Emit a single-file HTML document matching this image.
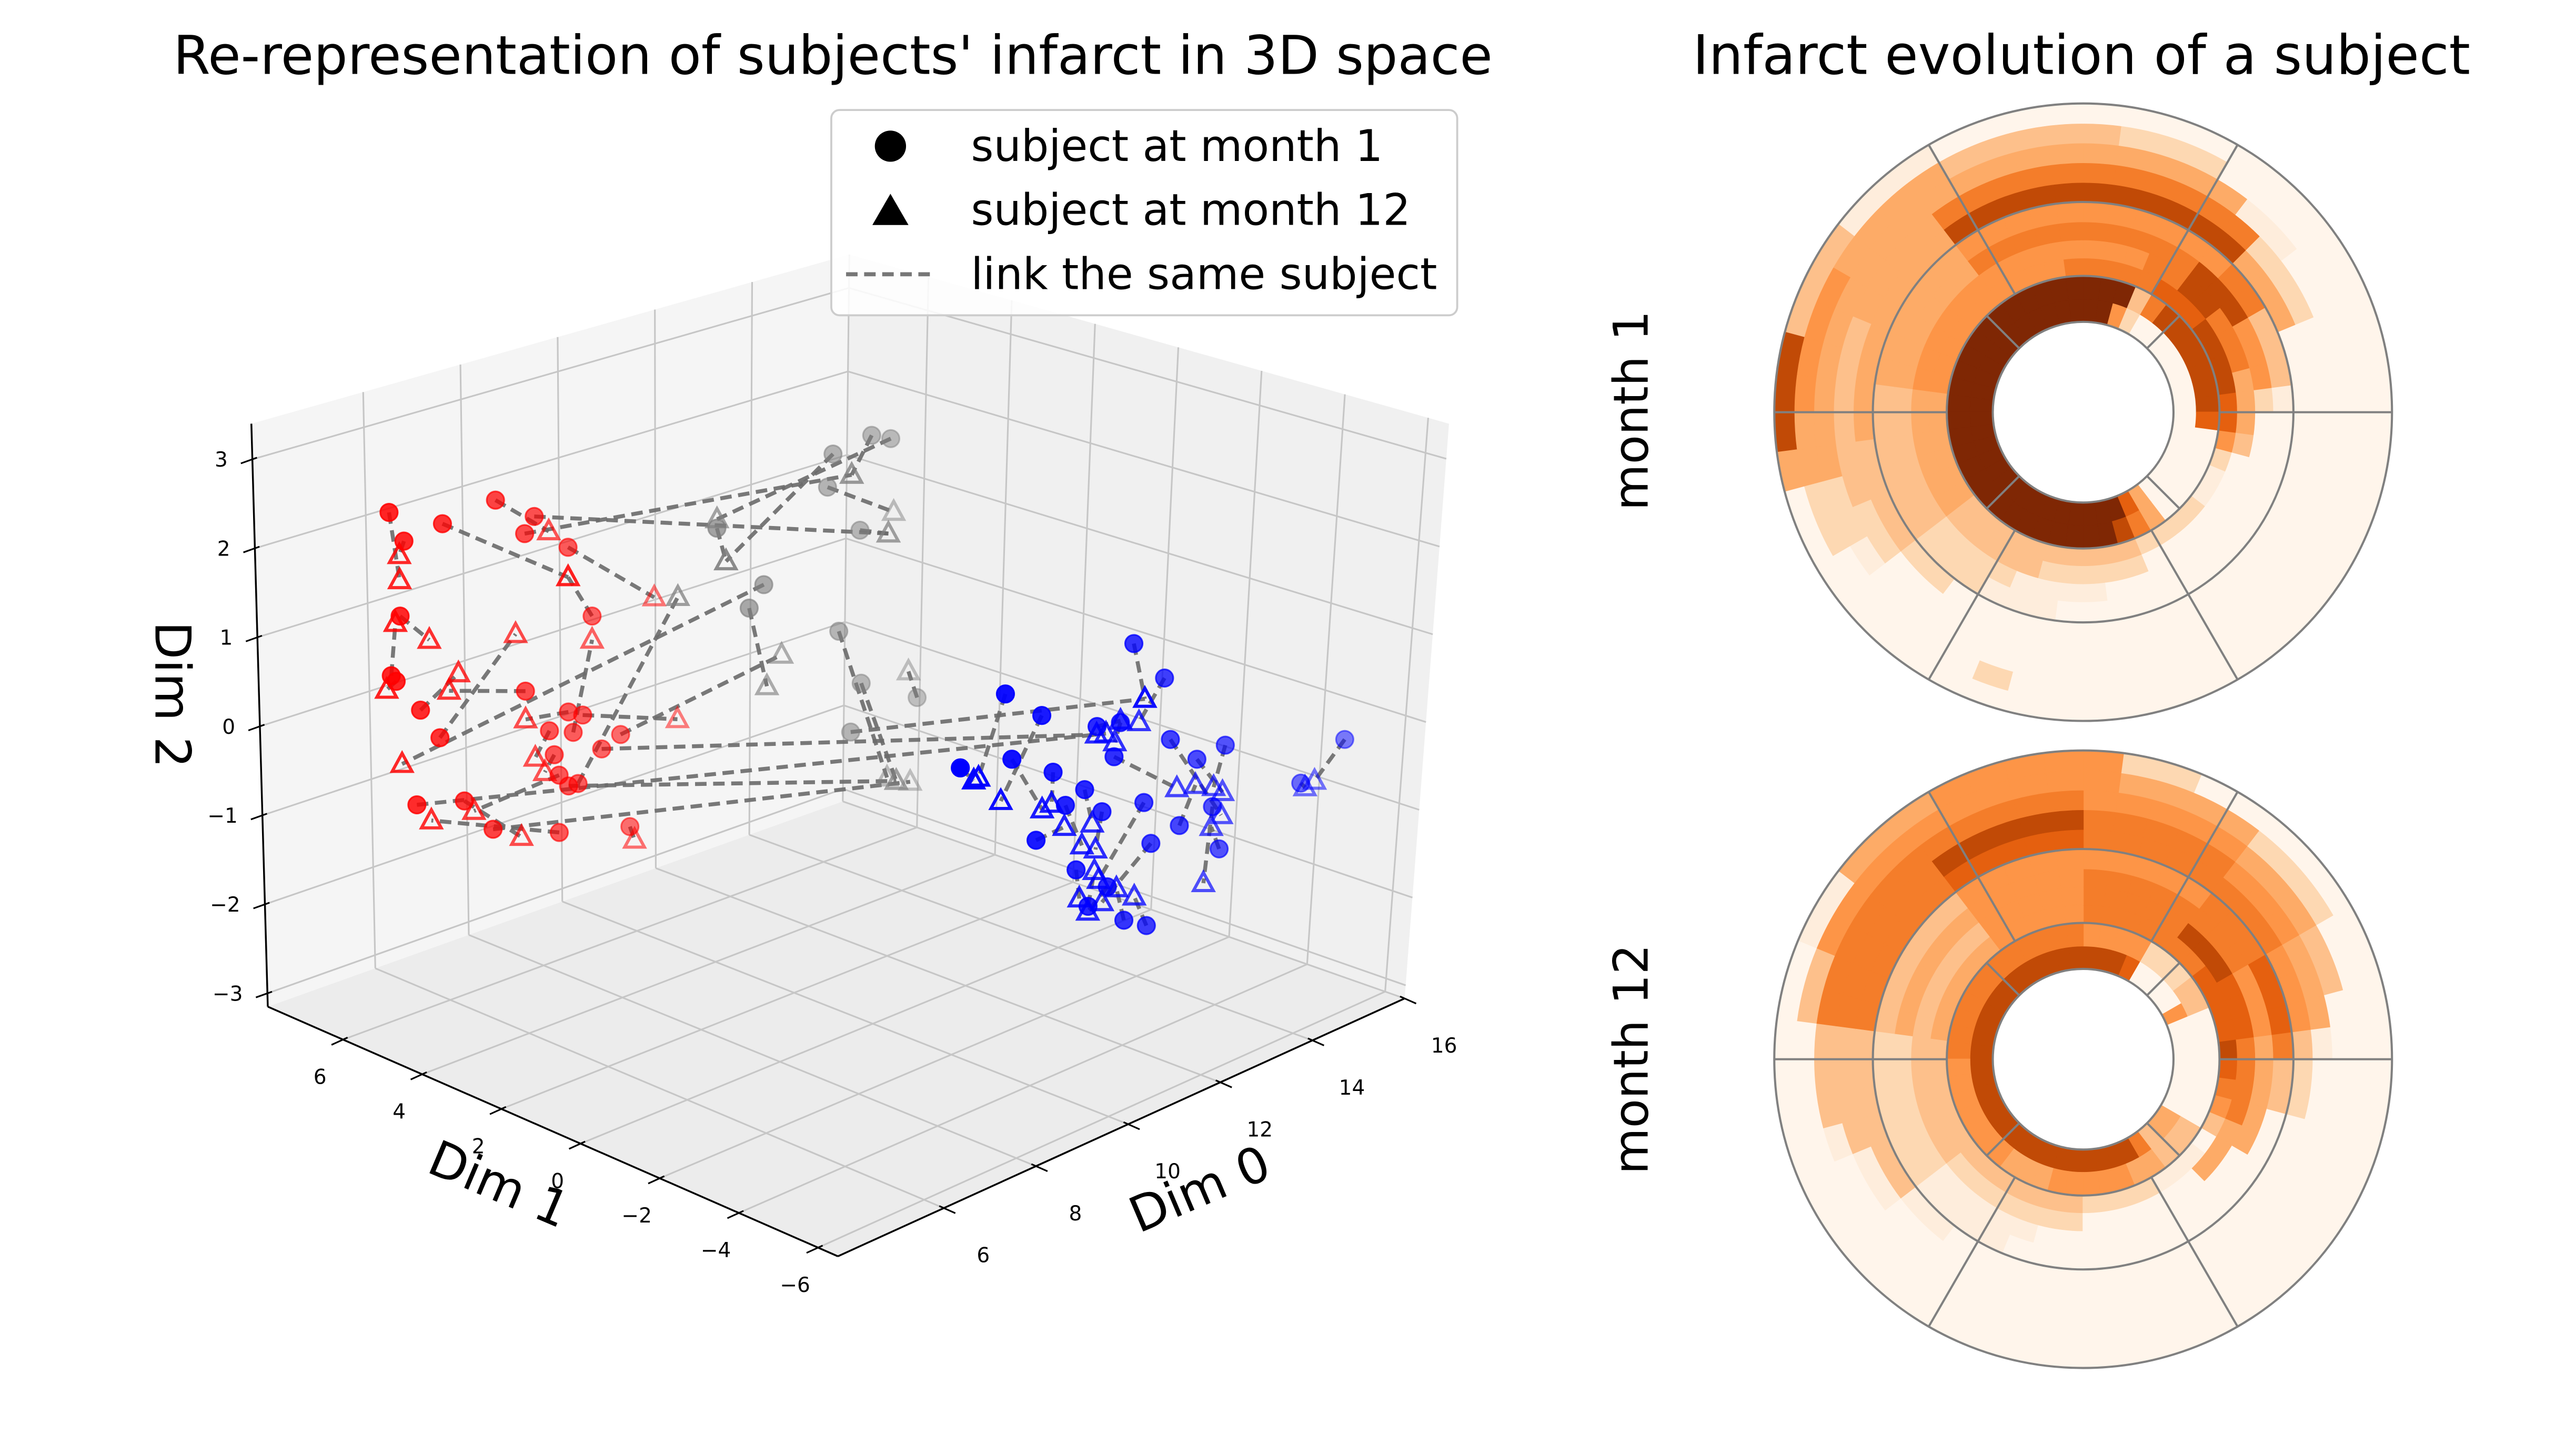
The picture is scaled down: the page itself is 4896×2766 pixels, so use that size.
<!DOCTYPE html>
<html><head><meta charset="utf-8"><title>Infarct 3D representation</title>
<style>
html,body{margin:0;padding:0;background:#fff;}
svg{display:block;}
text{font-family:"DejaVu Sans","Liberation Sans",sans-serif;fill:#000;}
</style></head>
<body>
<svg id="chart" width="4896" height="2766" viewBox="0 0 1568 886" preserveAspectRatio="none">
  <rect x="0" y="0" width="1568" height="886" fill="#ffffff"/>
  <g id="plot3d"></g>
  <text x="507" y="45" font-size="32.5" text-anchor="middle">Re-representation of subjects' infarct in 3D space</text>
  <text x="1267" y="45" font-size="33" text-anchor="middle">Infarct evolution of a subject</text>
  <text transform="translate(103,423) rotate(90)" font-size="30" text-anchor="middle" dominant-baseline="middle">Dim 2</text>
  <text transform="translate(303,723) rotate(23)" font-size="30" text-anchor="middle" dominant-baseline="middle">Dim 1</text>
  <text transform="translate(731,726) rotate(-23)" font-size="30" text-anchor="middle" dominant-baseline="middle">Dim 0</text>
  <g>
    <rect x="506" y="67" width="381" height="125" rx="5" fill="#ffffff" fill-opacity="0.85" stroke="#cccccc" stroke-width="1.2"/>
    <circle cx="542" cy="89" r="9.5" fill="#000"/>
    <text x="591" y="98" font-size="26.5">subject at month 1</text>
    <polygon points="542,118 531,137 553,137" fill="#000"/>
    <text x="591" y="137" font-size="26.5">subject at month 12</text>
    <line x1="515" y1="167" x2="570" y2="167" stroke="#777" stroke-width="2.5" stroke-dasharray="7,4"/>
    <text x="591" y="176" font-size="26.5">link the same subject</text>
  </g>
  <g id="bull1"></g>
  <g id="bull12"></g>
  <text transform="translate(995,250) rotate(-90)" font-size="29" text-anchor="middle" dominant-baseline="middle">month 1</text>
  <text transform="translate(995,645) rotate(-90)" font-size="29" text-anchor="middle" dominant-baseline="middle">month 12</text>
</svg>
<script>
// ---------- 3D scatter data ----------
const dim0Ticks = [6, 8, 10, 12, 14, 16];
const dim1Ticks = [-6, -4, -2, 0, 2, 4, 6];
const dim2Ticks = [-3, -2, -1, 0, 1, 2, 3];
const clusterDim1 = {r: 5, g: 2, b: -5};
const m1Cls = ['r','r','r','r','r','r','r','r','r','r','r','r','r','r','r','r','r','r','r','r','r','r','r','r','r','r','r','r','r',
  'g','g','g','g','g','g','g','g','g','g','g','g',
  'b','b','b','b','b','b','b','b','b','b','b','b','b','b','b','b','b','b','b','b','b','b','b','b','b','b','b','b','b'];
const m1D0 = [4.3,4.2,4.0,4.1,4.6,5.0,6.2,7.0,6.8,7.7,5.1,7.7,8.0,7.8,7.3,8.4,8.8,7.4,7.5,5.5,4.5,6.1,7.5,9.0,7.9,6.8,4.0,8.2,7.7,
  11.4,11.8,10.6,10.5,11.2,8.9,10.8,11.3,12.5,11.1,8.2,9.2,
  10.9,11.6,8.2,9.0,10.2,10.7,10.6,11.8,12.4,13.0,12.8,13.0,7.3,8.4,9.3,9.6,10.0,10.4,11.3,11.5,9.9,10.6,11.0,11.5,15.6,14.7,9.0,12.1,10.2];
const m1D2 = [2.49,1.67,1.04,0.96,0.55,0.17,2.63,2.31,2.15,1.84,2.55,-0.03,-0.12,-0.28,-0.17,-0.58,-0.49,-0.46,-0.71,-0.63,-0.49,-1.06,-1.36,-1.58,-0.88,0.37,2.86,0.97,-0.87,
  2.94,2.83,2.87,2.51,1.89,1.43,0.81,0.12,-0.28,-0.40,2.46,1.64,
  1.75,1.22,1.74,1.34,0.97,0.91,0.55,0.49,0.14,0.17,-0.48,-1.00,1.11,0.98,0.65,0.22,0.31,-0.02,-0.11,-0.61,-0.56,-0.90,-1.36,-1.53,-0.33,-0.63,-0.04,-0.54,-1.03];
const m12Cls = ['r','r','r','r','r','r','r','g','g','r','r','r','r','r','r','b','g','r','r','r','b','g','r','r','g','r','r','r','g',
  'g','g','g','g','g','g','g','g','g','b','g','r',
  'b','b','b','b','b','b','b','b','b','b','b','b','b','b','b','b','b','b','b','b','b','b','b','b','b','b','b','b','b'];
const m12D0 = [4.2,4.8,4.1,3.9,5.4,6.6,7.3,11.8,11.0,9.5,7.7,6.8,10.0,8.2,7.0,10.2,9.6,7.2,5.7,6.7,10.4,12.4,4.8,9.1,7.4,5.2,4.2,7.7,12.1,
  11.0,8.2,8.4,11.9,11.8,9.3,11.9,12.1,12.3,11.2,8.4,4.2,
  11.2,11.1,7.7,8.2,10.7,10.6,12.0,13.0,13.0,12.8,12.7,12.8,7.6,9.1,9.3,10.0,10.2,10.3,10.4,10.5,10.0,10.2,10.8,11.2,15.0,14.8,9.6,12.4,10.3];
const m12D2 = [2.35,1.30,1.61,0.90,0.82,1.05,2.09,1.74,2.56,0.95,1.50,0.05,-0.54,0.70,-0.42,0.88,0.77,-0.62,-0.78,-1.26,0.85,-1.23,-0.72,-1.75,1.83,0.66,2.07,1.50,-1.16,
  2.56,2.56,2.05,1.97,1.74,0.47,-1.08,-1.16,0.06,1.07,2.05,0.02,
  1.07,0.83,0.92,0.56,0.93,0.71,-0.10,-0.62,-0.36,-0.26,-1.32,-0.71,0.91,0.28,0.30,-0.31,-0.11,-0.42,-0.78,-1.05,-0.90,-1.09,-0.96,-1.14,-0.67,-0.70,-0.02,-0.15,-0.66];

// ---------- bullseye heatmap data (rows inner->outer, 48 angular bins CCW from 0deg) ----------
const month1Rows = [
  "000000002599999999999999999999999999999740000000",
  "888888863999999999999999999999999999998640000007",
  "788887776666655555555554444443333333333222211257",
  "446668866555555555555554444443333322222000000034",
  "255588866666666664444443333332222111100000000000",
  "133366555555555554444443333332221110000000000000",
  "000444888888888884444444433332200000000000000000",
  "000222666666666664444333333220000000000000000000",
  "000001144444444444444444442210000000000000000000",
  "000000002223333344445555442200000200000000000000",
  "000000000000000011133388840000000000000000000000"
];
const month12Rows = [
  "000500007888888888888888888888888888888863440000",
  "000332225555666666666666555555544455555443330000",
  "877776666666555554444443333333333333222211103567",
  "677788866666555553333333333332222222000000444666",
  "455566666666555554444442222221111100000000004444",
  "677766655555555553333332222221111000000000000033",
  "355566666666777776666663333331100000000000000022",
  "144455566666888886666663333110000000000000000000",
  "003344455555666666666663331000000000000000000000",
  "000022244445555555555330000000000000000000000000",
  "000000000225555544411000000000000000000000000000"
];
const orangeLevels = ['#fff5eb','#feeddc','#fdd8b2','#fdc08b','#fdab67','#fd9547','#f47d2a','#e5600f','#c14a06','#7f2704'];
const CLASS_COLOR = {r:'#ff0000', g:'#808080', b:'#0000ff'};

// ---------- helpers ----------
const svg = document.getElementById('chart');
const NS = svg.namespaceURI;
function mk(tag, attrs, parent){
  const e = document.createElementNS(NS, tag);
  for (const k in attrs) e.setAttribute(k, attrs[k]);
  parent.appendChild(e);
  return e;
}
const FL = {F:[510,765], R:[855,608], L:[163,613], B:[513,488]};
const UP = {F:[13,-372], R:[27,-350], L:[-10,-355], B:[4,-333]};
const D0 = [3.7, 16.0], D1 = [-6.5, 7.9], D2 = [-3.15, 3.4];
function bil(o, a, b, i){ return (1-a)*(1-b)*o.F[i] + a*(1-b)*o.R[i] + (1-a)*b*o.L[i] + a*b*o.B[i]; }
function proj(a, b, c){ return [bil(FL,a,b,0) + c*bil(UP,a,b,0), bil(FL,a,b,1) + c*bil(UP,a,b,1)]; }
function sA(v){ return (v - D0[0])/(D0[1]-D0[0]); }
function sB(v){ return (v - D1[0])/(D1[1]-D1[0]); }
function sC(v){ return (v - D2[0])/(D2[1]-D2[0]); }
function pts(list){ return list.map(p => p[0].toFixed(2)+','+p[1].toFixed(2)).join(' '); }

const g3 = document.getElementById('plot3d');
let el;
el = mk('polygon', {points: pts([proj(0,1,0),proj(1,1,0),proj(1,1,1),proj(0,1,1)]), fill:'#f5f5f5'}, g3);


el = mk('polygon', {points: pts([proj(1,1,0),proj(1,0,0),proj(1,0,1),proj(1,1,1)]), fill:'#f0f0f0'}, g3);


el = mk('polygon', {points: pts([proj(0,0,0),proj(1,0,0),proj(1,1,0),proj(0,1,0)]), fill:'#ececec'}, g3);



function gridLine(p, q, name){
  const l = mk('line', {x1:p[0], y1:p[1], x2:q[0], y2:q[1], stroke:'#c6c6c6', 'stroke-width':1}, g3);
  
  
}
dim0Ticks.forEach(v => { const a = sA(v);
  gridLine(proj(a,0,0), proj(a,1,0), 'floor-grid-dim0');
  gridLine(proj(a,1,0), proj(a,1,1), 'wall-grid-dim0'); });
dim1Ticks.forEach(v => { const b = sB(v);
  gridLine(proj(0,b,0), proj(1,b,0), 'floor-grid-dim1');
  gridLine(proj(1,b,0), proj(1,b,1), 'wall-grid-dim1'); });
dim2Ticks.forEach(v => { const c = sC(v);
  gridLine(proj(0,1,c), proj(1,1,c), 'left-wall-grid-dim2');
  gridLine(proj(1,1,c), proj(1,0,c), 'right-wall-grid-dim2'); });

function axisLine(p, q, name){
  const l = mk('line', {x1:p[0], y1:p[1], x2:q[0], y2:q[1], stroke:'#000', 'stroke-width':1.1}, g3);
  
  
}
axisLine(proj(0,1,0), proj(0,1,1), 'z-axis-line');
axisLine(proj(0,0,0), proj(0,1,0), 'y-axis-line');
axisLine(proj(0,0,0), proj(1,0,0), 'x-axis-line');

function tickLabel(x, y, txt, anchor, name){
  const t = mk('text', {x:x, y:y, 'font-size':12.5, 'text-anchor':anchor}, g3);
  t.textContent = txt;
  
  
}
function tickMark(p, dx, dy, name){
  const l = mk('line', {x1:p[0]-dx*0.4, y1:p[1]-dy*0.4, x2:p[0]+dx, y2:p[1]+dy, stroke:'#000', 'stroke-width':1}, g3);
  
  
}
function fmt(v){ return v < 0 ? '\u2212' + Math.abs(v) : String(v); }
dim2Ticks.forEach(v => { const p = proj(0,1,sC(v));
  tickMark(p, -7, 2.5, 'z-tick');
  tickLabel(p[0]-15, p[1]+4.5, fmt(v), 'end', 'z-tick-label'); });
dim1Ticks.forEach(v => { const p = proj(0,sB(v),0);
  tickMark(p, -7, 3.2, 'y-tick');
  tickLabel(p[0]-14, p[1]+27, fmt(v), 'middle', 'y-tick-label'); });
dim0Ticks.forEach(v => { const p = proj(sA(v),0,0);
  tickMark(p, 7, 3.1, 'x-tick');
  tickLabel(p[0]+24, p[1]+33, fmt(v), 'middle', 'x-tick-label'); });

const P1 = m1D0.map((v,i) => [sA(v), sB(clusterDim1[m1Cls[i]]), sC(m1D2[i])]);
const P12 = m12D0.map((v,i) => [sA(v), sB(clusterDim1[m12Cls[i]]), sC(m12D2[i])]);
const depths = P1.concat(P12).map(p => p[0]*0.6 + p[1]*0.4);
const dmin = Math.min(...depths), dmax = Math.max(...depths);
function alphaOf(p){ return 1 - 0.55*((p[0]*0.6 + p[1]*0.4) - dmin)/(dmax - dmin); }

P1.forEach((p,i) => {
  const a = proj(p[0],p[1],p[2]), b = proj(P12[i][0],P12[i][1],P12[i][2]);
  const l = mk('line', {x1:a[0], y1:a[1], x2:b[0], y2:b[1], stroke:'#6a6a6a', 'stroke-width':2.4, 'stroke-dasharray':'7,4', 'stroke-opacity':0.9}, g3);
  
  
});
P12.forEach((p,i) => {
  const q = proj(p[0],p[1],p[2]);
  const col = CLASS_COLOR[m12Cls[i]];
  const t = mk('polygon', {points: pts([[q[0],q[1]-6.5],[q[0]-6,q[1]+4.5],[q[0]+6,q[1]+4.5]]), fill:'none', stroke:col, 'stroke-width':1.9, 'stroke-opacity':alphaOf(p)}, g3);
  
  
});
P1.forEach((p,i) => {
  const q = proj(p[0],p[1],p[2]);
  const col = CLASS_COLOR[m1Cls[i]];
  const c = mk('circle', {cx:q[0], cy:q[1], r:5.3, fill:col, 'fill-opacity':alphaOf(p), stroke:col, 'stroke-width':1, 'stroke-opacity':alphaOf(p)}, g3);
  
  
});

// ---------- bullseye plots ----------
const rEdges = [55,69,83,94,105,116,128,140,152,164,176,188];
function drawBullseye(gid, cx, cy, rows){
  const g = document.getElementById(gid);
  const nA = rows[0].length, step = 2*Math.PI/nA;
  rows.forEach((row, ri) => {
    const r0 = rEdges[ri], r1 = rEdges[ri+1];
    for (let k = 0; k < nA; k++){
      const t0 = k*step, t1 = (k+1)*step;
      const col = orangeLevels[+row[k]];
      const d = 'M'+(cx+r1*Math.cos(t0)).toFixed(2)+','+(cy-r1*Math.sin(t0)).toFixed(2)+
        ' A'+r1+','+r1+' 0 0 0 '+(cx+r1*Math.cos(t1)).toFixed(2)+','+(cy-r1*Math.sin(t1)).toFixed(2)+
        ' L'+(cx+r0*Math.cos(t1)).toFixed(2)+','+(cy-r0*Math.sin(t1)).toFixed(2)+
        ' A'+r0+','+r0+' 0 0 1 '+(cx+r0*Math.cos(t0)).toFixed(2)+','+(cy-r0*Math.sin(t0)).toFixed(2)+' Z';
      const s = mk('path', {d:d, fill:col, stroke:col, 'stroke-width':0.6}, g);
      
      
    }
  });
  [55,83,128,188].forEach(r => {
    const c = mk('circle', {cx:cx, cy:cy, r:r, fill:'none', stroke:'#808080', 'stroke-width':1.3}, g);
    
    
  });
  [0,60,120,180,240,300].forEach(deg => {
    const t = deg*Math.PI/180;
    const l = mk('line', {x1:cx+83*Math.cos(t), y1:cy-83*Math.sin(t), x2:cx+188*Math.cos(t), y2:cy-188*Math.sin(t), stroke:'#808080', 'stroke-width':1.3}, g);
    
    
  });
  [45,135,225,315].forEach(deg => {
    const t = deg*Math.PI/180;
    const l = mk('line', {x1:cx+55*Math.cos(t), y1:cy-55*Math.sin(t), x2:cx+83*Math.cos(t), y2:cy-83*Math.sin(t), stroke:'#808080', 'stroke-width':1.3}, g);
    
    
  });
}
drawBullseye('bull1', 1268, 251, month1Rows);
drawBullseye('bull12', 1268, 645, month12Rows);
</script>
</body></html>
